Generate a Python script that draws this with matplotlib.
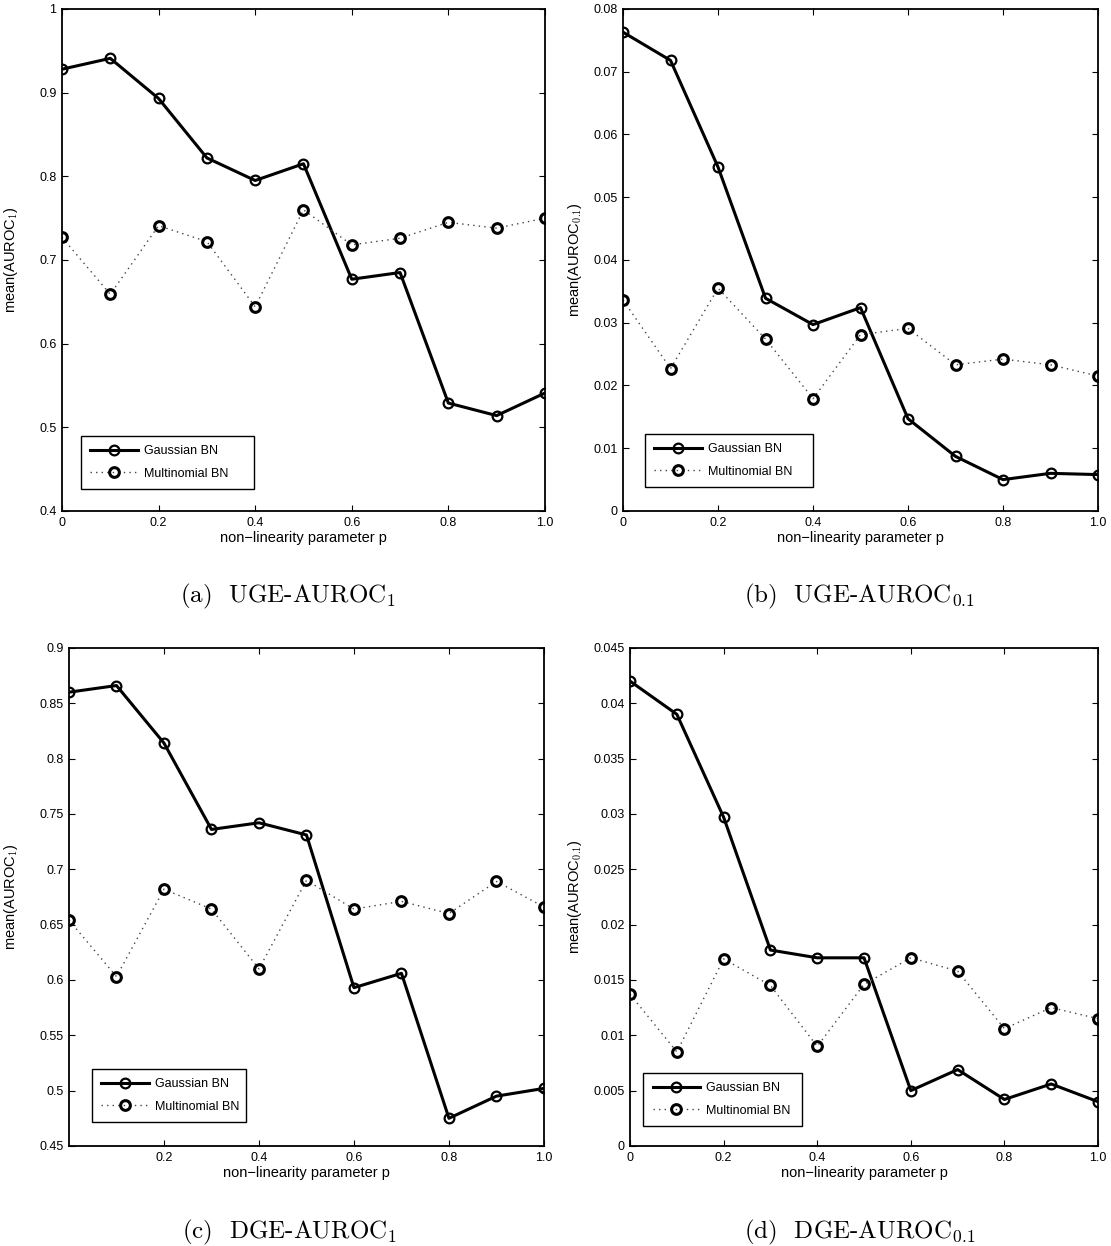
import matplotlib
matplotlib.use("Agg")
import matplotlib.pyplot as plt
import numpy as np

plt.rcParams['font.family'] = ['Liberation Sans', 'DejaVu Sans']
plt.rcParams['mathtext.fontset'] = 'cm'

p = [0, 0.1, 0.2, 0.3, 0.4, 0.5, 0.6, 0.7, 0.8, 0.9, 1.0]

# valores
uge1_gauss = [0.928, 0.941, 0.893, 0.822, 0.795, 0.815, 0.677, 0.685, 0.529, 0.514, 0.541]
uge1_multi = [0.727, 0.659, 0.741, 0.722, 0.644, 0.760, 0.718, 0.726, 0.745, 0.738, 0.750]
uge01_gauss = [0.0763, 0.0718, 0.0548, 0.0339, 0.0297, 0.0324, 0.0147, 0.0087, 0.0050, 0.0060, 0.0058]
uge01_multi = [0.0336, 0.0227, 0.0355, 0.0274, 0.0179, 0.0281, 0.0291, 0.0233, 0.0242, 0.0233, 0.0215]
dge1_gauss = [0.860, 0.866, 0.814, 0.736, 0.742, 0.731, 0.593, 0.606, 0.475, 0.495, 0.502]
dge1_multi = [0.654, 0.603, 0.682, 0.664, 0.610, 0.690, 0.664, 0.671, 0.660, 0.689, 0.666]
dge01_gauss = [0.0420, 0.0390, 0.0297, 0.0177, 0.0170, 0.0170, 0.0050, 0.0069, 0.0042, 0.0056, 0.0040]
dge01_multi = [0.0137, 0.0085, 0.0169, 0.0145, 0.0090, 0.0146, 0.0170, 0.0158, 0.0106, 0.0125, 0.0115]

yticks_a = [0.4, 0.5, 0.6, 0.7, 0.8, 0.9, 1.0]
ylabels_a = ['0.4', '0.5', '0.6', '0.7', '0.8', '0.9', '1']
yticks_b = [0, 0.01, 0.02, 0.03, 0.04, 0.05, 0.06, 0.07, 0.08]
ylabels_b = ['0', '0.01', '0.02', '0.03', '0.04', '0.05', '0.06', '0.07', '0.08']
yticks_c = [0.45, 0.5, 0.55, 0.6, 0.65, 0.7, 0.75, 0.8, 0.85, 0.9]
ylabels_c = ['0.45', '0.5', '0.55', '0.6', '0.65', '0.7', '0.75', '0.8', '0.85', '0.9']
yticks_d = [0, 0.005, 0.01, 0.015, 0.02, 0.025, 0.03, 0.035, 0.04, 0.045]
ylabels_d = ['0', '0.005', '0.01', '0.015', '0.02', '0.025', '0.03', '0.035', '0.04', '0.045']

xticks = [0, 0.2, 0.4, 0.6, 0.8, 1.0]
xlabels = ['0', '0.2', '0.4', '0.6', '0.8', '1.0']

legenda = ['Gaussian BN', 'Multinomial BN']

fig = plt.figure(figsize=(11.11, 12.46), dpi=100)


def painel(pos, gauss, multi, yt, yl, ylabel, ylab_x, caption, cap_x, cap_y, leg_pos, xt, xl):
    ax = fig.add_axes(pos)
    ax.plot(p, gauss, '-', color='black', lw=2.2, marker='o', ms=7,
            mfc='none', mec='black', mew=1.6, label=legenda[0])
    ax.plot(p, multi, linestyle=(0, (1, 3)), color='#444444', lw=1.0, marker='o', ms=7,
            mfc='none', mec='black', mew=2.2, label=legenda[1])
    ax.set_xlim(0, 1)
    ax.set_ylim(yt[0], yt[-1])
    ax.set_xticks(xt)
    ax.set_xticklabels(xl)
    ax.set_yticks(yt)
    ax.set_yticklabels(yl)
    ax.tick_params(direction='in', top=True, right=True, length=4, width=0.8,
                   labelsize=9, pad=4)
    for s in ax.spines.values():
        s.set_linewidth(1.3)
    ax.set_xlabel('non\u2212linearity parameter p', fontsize=10.5, labelpad=2)
    ax.set_ylabel(ylabel, fontsize=10.5)
    ax.yaxis.set_label_coords(ylab_x, 0.5)
    ax.legend(loc='lower left', bbox_to_anchor=leg_pos, mode='expand',
              borderaxespad=0, fontsize=9, handlelength=3.8, handletextpad=0.5,
              borderpad=0.75, labelspacing=0.85, fancybox=False,
              edgecolor='black', framealpha=1)
    ax.get_legend().get_frame().set_linewidth(1.0)
    fig.text(cap_x, cap_y, caption, ha='center', va='center', fontsize=18,
             family='cmr10')
    return ax


painel([0.0558, 0.5899, 0.4347, 0.4029], uge1_gauss, uge1_multi, yticks_a, ylabels_a,
       r'mean(AUROC$_{\mathsf{1}}$)', -0.087, '(a)  UGE-AUROC$_1$', 0.259, 1 - 596 / 1246,
       (0.039, 0.044, 0.358, 0.1), xticks, xlabels)
painel([0.5608, 0.5899, 0.4275, 0.4029], uge01_gauss, uge01_multi, yticks_b, ylabels_b,
       r'mean(AUROC$_{\mathsf{0.1}}$)', -0.082, '(b)  UGE-AUROC$_{0.1}$', 0.774, 1 - 596 / 1246,
       (0.046, 0.048, 0.354, 0.1), xticks, xlabels)
painel([0.0621, 0.0803, 0.4275, 0.3997], dge1_gauss, dge1_multi, yticks_c, ylabels_c,
       r'mean(AUROC$_{\mathsf{1}}$)', -0.103, '(c)  DGE-AUROC$_1$', 0.261, 1 - 1232 / 1246,
       (0.048, 0.048, 0.325, 0.1), xticks[1:], xlabels[1:])
painel([0.5671, 0.0803, 0.4212, 0.3997], dge01_gauss, dge01_multi, yticks_d, ylabels_d,
       r'mean(AUROC$_{\mathsf{0.1}}$)', -0.098, '(d)  DGE-AUROC$_{0.1}$', 0.774, 1 - 1232 / 1246,
       (0.028, 0.040, 0.34, 0.1), xticks, xlabels)

fig.savefig('out.png', dpi=100)
